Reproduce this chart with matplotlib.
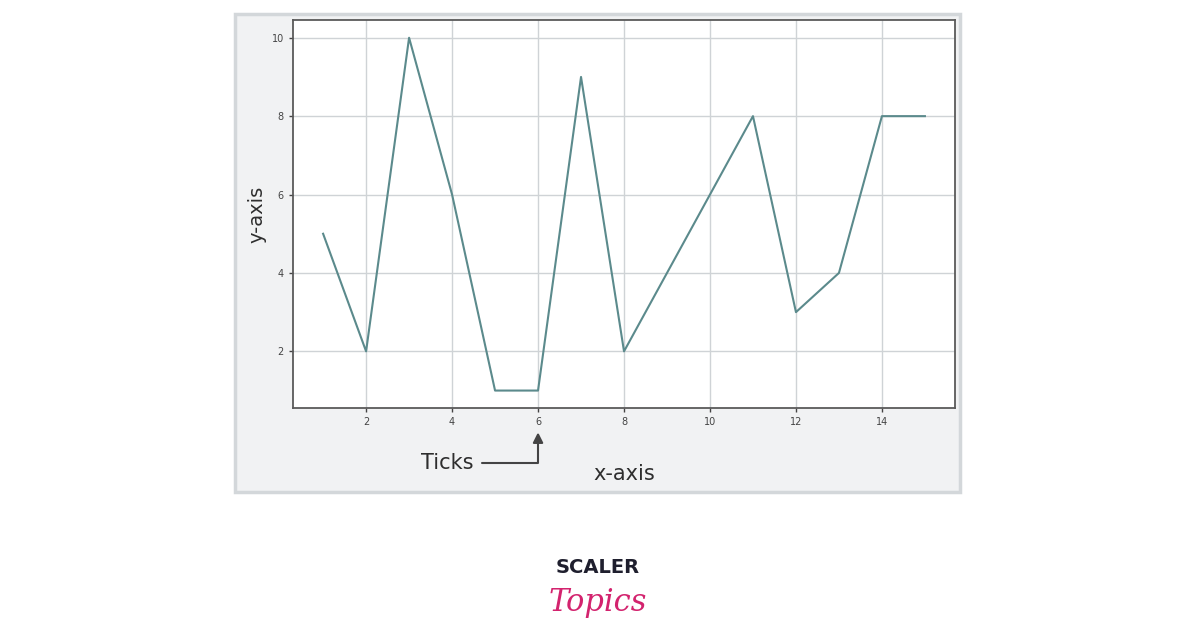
import matplotlib
matplotlib.use("Agg")
from matplotlib import pyplot as plt
from matplotlib.patches import Rectangle

# data
x = [1, 2, 3, 4, 5, 6, 7, 8, 9, 10, 11, 12, 13, 14, 15]
y = [5, 2, 10, 6, 1, 1, 9, 2, 4, 6, 8, 3, 4, 8, 8]
xticks = [2, 4, 6, 8, 10, 12, 14]
yticks = [2, 4, 6, 8, 10]

fig = plt.figure(figsize=(11.96, 6.28), dpi=100)
fig.patch.set_facecolor("white")

# light grey card behind the plot
card = Rectangle((0.1965, 0.2166), 0.606, 0.761, transform=fig.transFigure,
                 facecolor="#f1f2f3", edgecolor="#d3d7da", linewidth=2.5, zorder=-1)
fig.add_artist(card)

ax = fig.add_axes([0.245, 0.350, 0.5535, 0.618])
ax.set_zorder(1)
ax.set_facecolor("white")
ax.plot(x, y, color="#5b8a8c", linewidth=1.5)
ax.set_xticks(xticks)
ax.set_yticks(yticks)
ax.grid(True, color="#cfd3d6", linewidth=1.0)
ax.set_axisbelow(True)
for s in ax.spines.values():
    s.set_color("#5a5a5a")
    s.set_linewidth(1.3)
ax.tick_params(labelsize=7, colors="#444444", length=3, width=1)

ax.set_ylabel("y-axis", fontsize=14, color="#2e2e2e", labelpad=4)
ax.set_xlabel("x-axis", fontsize=15, color="#2e2e2e")
ax.xaxis.set_label_coords(0.5, -0.143)

ax.annotate("Ticks", xy=(6, -0.062), xycoords=("data", "axes fraction"),
            xytext=(0.233, -0.14), textcoords="axes fraction",
            fontsize=15, color="#2e2e2e", ha="center", va="center",
            arrowprops=dict(arrowstyle="-|>", color="#444444", lw=1.5,
                            connectionstyle="angle,angleA=0,angleB=90,rad=0",
                            shrinkA=4, shrinkB=0))

fig.text(0.5, 0.097, "SCALER", ha="center", va="center", fontsize=14,
         fontweight="bold", color="#1f1f2e", family="DejaVu Sans")
fig.text(0.5, 0.040, "Topics", ha="center", va="center", fontsize=22,
         style="italic", color="#d3236e", family="DejaVu Serif")

fig.savefig("out.png", dpi=100)
